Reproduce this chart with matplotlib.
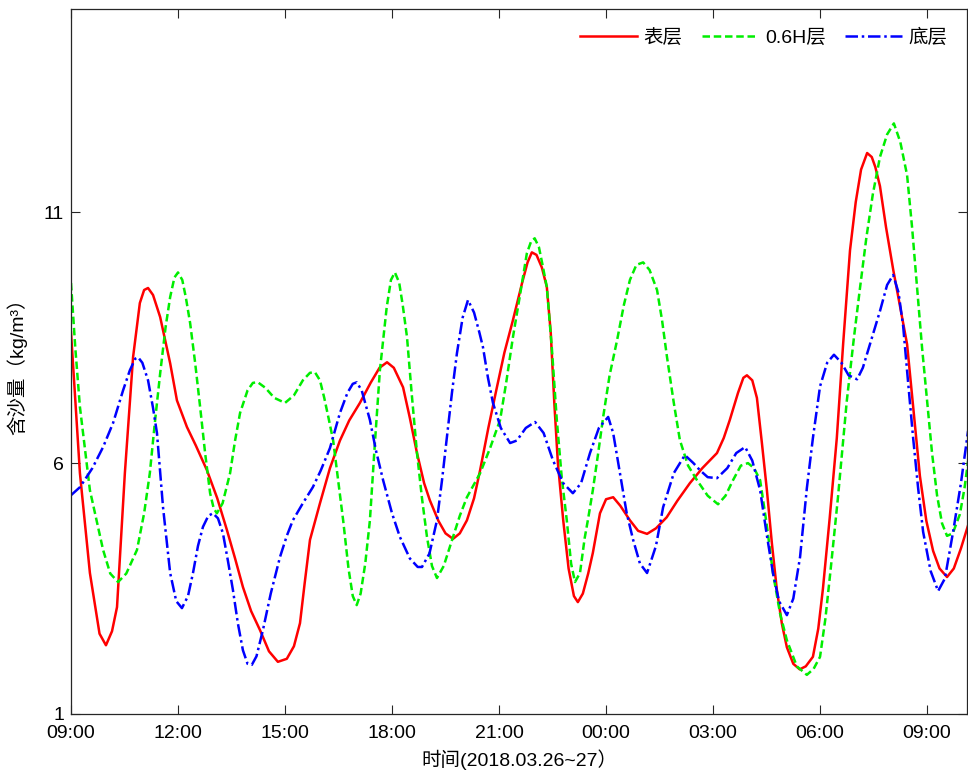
import matplotlib.pyplot as plt
import numpy as np

plt.rcParams['font.family'] = ['Liberation Sans', 'Noto Sans CJK SC', 'DejaVu Sans']

# hours after 2018-03-26 09:00
surf_t = [0, 0.25, 0.53, 0.8, 0.98, 1.15, 1.29, 1.51, 1.74, 1.93, 2.05, 2.16, 2.3, 2.5, 2.78,
          2.97, 3.25, 3.5, 3.81, 4.1, 4.37, 4.6, 4.82, 5.05, 5.3, 5.55, 5.8, 6.05, 6.25, 6.42,
          6.55, 6.7, 6.98, 7.26, 7.54, 7.8, 8.1, 8.4, 8.65, 8.86, 9.05, 9.31, 9.5, 9.7, 9.9,
          10.06, 10.3, 10.5, 10.71, 10.9, 11.1, 11.3, 11.47, 11.7, 11.94, 12.15, 12.39, 12.65,
          12.8, 12.92, 13.05, 13.2, 13.34, 13.45, 13.55, 13.65, 13.8, 13.95, 14.1, 14.21, 14.35,
          14.5, 14.63, 14.83, 15.0, 15.2, 15.4, 15.67, 15.9, 16.15, 16.4, 16.7, 17.0, 17.35,
          17.7, 18.11, 18.3, 18.47, 18.7, 18.85, 18.95, 19.1, 19.23, 19.37, 19.51, 19.65, 19.79,
          19.93, 20.07, 20.25, 20.43, 20.6, 20.8, 20.95, 21.08, 21.27, 21.47, 21.65, 21.84,
          22.0, 22.15, 22.32, 22.45, 22.55, 22.68, 22.85, 23.05, 23.25, 23.44, 23.6, 23.8,
          23.98, 24.17, 24.35, 24.56, 24.75, 24.95, 25.15]
surf_v = [8.61, 5.8, 3.81, 2.6, 2.37, 2.65, 3.13, 5.8, 8.11, 9.19, 9.45, 9.49, 9.35, 8.91, 7.99,
          7.25, 6.72, 6.35, 5.86, 5.3, 4.67, 4.1, 3.53, 3.05, 2.67, 2.25, 2.04, 2.1, 2.35, 2.81,
          3.6, 4.47, 5.2, 5.9, 6.45, 6.85, 7.2, 7.6, 7.9, 8.01, 7.9, 7.51, 6.9, 6.2, 5.6,
          5.26, 4.85, 4.6, 4.49, 4.6, 4.86, 5.3, 5.86, 6.7, 7.51, 8.2, 8.85, 9.6,
          10.0, 10.2, 10.15, 9.9, 9.51, 8.6, 7.2, 6.0, 4.86, 3.9, 3.35, 3.23, 3.4,
          3.8, 4.21, 5.0, 5.28, 5.32, 5.15, 4.86, 4.65, 4.59, 4.7, 4.92, 5.25, 5.6,
          5.9, 6.2, 6.5, 6.86, 7.4, 7.7, 7.75, 7.65, 7.3, 6.4, 5.46, 4.4, 3.47,
          2.8, 2.33, 2.0, 1.89, 1.95, 2.14, 2.7, 3.49, 4.9, 6.5, 8.4, 10.24,
          11.2, 11.85, 12.18, 12.1, 11.9, 11.52, 10.7, 9.86, 9.1, 8.37, 7.2, 5.74,
          4.85, 4.25, 3.9, 3.73, 3.9, 4.3, 4.76]

mid_t = [0, 0.12, 0.25, 0.53, 0.9, 1.1, 1.32, 1.55, 1.85, 2.05, 2.21, 2.35, 2.5, 2.65, 2.78,
         2.9, 3.0, 3.12, 3.22, 3.34, 3.48, 3.62, 3.76, 3.9, 4.0, 4.09, 4.25, 4.46, 4.6, 4.74,
         4.95, 5.1, 5.24, 5.45, 5.7, 6.0, 6.25, 6.5, 6.7, 6.84, 6.98, 7.1, 7.22, 7.35, 7.5,
         7.63, 7.78, 7.9, 8.01, 8.12, 8.25, 8.38, 8.52, 8.66, 8.85, 8.97, 9.08, 9.2, 9.3,
         9.42, 9.55, 9.7, 9.84, 9.98, 10.12, 10.26, 10.45, 10.71, 10.9, 11.1, 11.47, 11.75,
         12.03, 12.2, 12.39, 12.6, 12.78, 12.9, 13.0, 13.12, 13.22, 13.34, 13.48, 13.62,
         13.76, 13.9, 14.02, 14.13, 14.27, 14.4, 14.5, 14.63, 14.78, 14.92, 15.1, 15.31,
         15.5, 15.67, 15.85, 16.04, 16.22, 16.43, 16.57, 16.71, 16.9, 17.07, 17.3, 17.55,
         17.85, 18.14, 18.35, 18.56, 18.78, 18.98, 19.15, 19.32, 19.5, 19.68, 19.88, 20.07,
         20.35, 20.63, 20.82, 21.0, 21.15, 21.3, 21.5, 21.75, 21.95, 22.12, 22.3, 22.48,
         22.68, 22.88, 23.07, 23.25, 23.44, 23.58, 23.72, 23.86, 24.0, 24.14, 24.28, 24.42,
         24.56, 24.72, 24.92, 25.05, 25.15]
mid_v = [9.59, 8.3, 7.12, 5.46, 4.27, 3.8, 3.63, 3.8, 4.27, 5.0, 5.8, 6.8, 7.79, 8.7, 9.31,
         9.7, 9.8, 9.65, 9.3, 8.79, 8.0, 7.12, 6.2, 5.4, 5.1, 5.0, 5.2, 5.8, 6.45, 7.0,
         7.45, 7.6, 7.61, 7.5, 7.3, 7.2, 7.35, 7.65, 7.8, 7.81, 7.65, 7.3, 6.9, 6.45, 5.6,
         4.86, 3.9, 3.35, 3.17, 3.4, 4.0, 4.86, 6.4, 7.85, 9.1, 9.65, 9.8, 9.6, 9.15,
         8.51, 7.4, 6.2, 5.3, 4.53, 3.95, 3.71, 3.95, 4.53, 4.95, 5.32, 5.8, 6.3,
         6.86, 7.6, 8.51, 9.4, 10.18, 10.42, 10.48, 10.3, 9.95, 9.51, 8.3, 6.86,
         5.7, 4.86, 4.0, 3.63, 3.81, 4.5, 4.9, 5.46, 6.2, 6.92, 7.75, 8.45,
         9.15, 9.65, 9.95, 10.0, 9.85, 9.45, 8.85, 8.11, 7.2, 6.46, 5.95, 5.66,
         5.35, 5.18, 5.35, 5.66, 5.95, 6.0, 5.9, 5.66, 4.8, 3.81, 3.0, 2.47,
         1.95, 1.78, 1.9, 2.14, 2.9, 3.9, 5.3, 7.24, 8.5, 9.49, 10.5, 11.36,
         12.1, 12.55, 12.77, 12.4, 11.74, 10.7, 9.49, 8.3, 7.24, 6.2, 5.36, 4.8,
         4.55, 4.6, 4.98, 5.5, 6.04]

bot_t = [0, 0.25, 0.6, 0.9, 1.18, 1.46, 1.65, 1.8, 1.88, 2.0, 2.16, 2.3, 2.41, 2.58, 2.78,
         2.95, 3.11, 3.28, 3.42, 3.56, 3.7, 3.85, 3.98, 4.12, 4.26, 4.4, 4.54, 4.68, 4.82,
         4.95, 5.07, 5.2, 5.38, 5.6, 5.86, 6.05, 6.22, 6.5, 6.78, 7.0, 7.26, 7.54, 7.75,
         7.9, 8.01, 8.15, 8.38, 8.55, 8.75, 9.0, 9.22, 9.5, 9.72, 9.84, 10.05, 10.26, 10.4,
         10.54, 10.68, 10.82, 10.98, 11.13, 11.3, 11.45, 11.55, 11.69, 11.83, 12.05, 12.31,
         12.5, 12.75, 13.01, 13.25, 13.51, 13.8, 14.07, 14.3, 14.55, 14.8, 15.06, 15.2,
         15.39, 15.58, 15.76, 15.95, 16.15, 16.4, 16.6, 16.9, 17.21, 17.45, 17.63, 17.85,
         18.11, 18.4, 18.65, 18.9, 19.1, 19.32, 19.5, 19.68, 19.85, 20.07, 20.25, 20.44,
         20.63, 20.8, 21.0, 21.2, 21.39, 21.6, 21.8, 22.04, 22.2, 22.4, 22.68, 22.88, 23.05,
         23.2, 23.33, 23.47, 23.61, 23.75, 23.89, 24.1, 24.31, 24.5, 24.73, 24.95, 25.15]
bot_v = [5.36, 5.52, 5.9, 6.32, 6.8, 7.45, 7.85, 8.08, 8.11, 8.0, 7.65, 7.1, 6.6, 5.12, 3.81,
         3.25, 3.11, 3.35, 3.81, 4.35, 4.73, 4.95, 5.0, 4.9, 4.6, 4.05, 3.47, 2.8, 2.27,
         2.0, 1.98, 2.15, 2.67, 3.4, 4.13, 4.55, 4.86, 5.2, 5.52, 5.85, 6.3, 7.0, 7.4,
         7.58, 7.61, 7.45, 6.86, 6.25, 5.66, 5.0, 4.53, 4.1, 3.93, 3.93, 4.2, 4.86, 5.65,
         6.52, 7.4, 8.19, 8.9, 9.25, 9.0, 8.6, 8.31, 7.7, 7.2, 6.7, 6.4,
         6.45, 6.7, 6.82, 6.6, 6.06, 5.6, 5.4, 5.6, 6.2, 6.7, 6.92, 6.6,
         5.8, 5.0, 4.47, 4.0, 3.81, 4.35, 5.12, 5.8, 6.16, 6.0, 5.86, 5.72,
         5.7, 5.9, 6.2, 6.32, 6.05, 5.46, 4.6, 3.81, 3.25, 2.97, 3.3, 4.13,
         5.5, 6.5, 7.53, 8.0, 8.16, 8.0, 7.75, 7.67, 7.9, 8.37, 9.03, 9.55, 9.75,
         9.4, 8.73, 7.6, 6.5, 5.5, 4.63, 3.85, 3.45, 3.7, 4.63, 5.6, 6.64]

tick_hours = [0, 3, 6, 9, 12, 15, 18, 21, 24]
tick_labels = ['09:00', '12:00', '15:00', '18:00', '21:00', '00:00', '03:00', '06:00', '09:00']

fig = plt.figure(figsize=(9.68, 7.76), dpi=100)
ax = fig.add_axes([71 / 968, 62 / 776, 896 / 968, 705 / 776])

ax.plot(surf_t, surf_v, color='#ff0000', lw=1.8, ls='-', label='表层')
ax.plot(mid_t, mid_v, color='#00ee00', lw=1.8, ls=(0, (3, 1.5)), label='0.6H层')
ax.plot(bot_t, bot_v, color='#0000ff', lw=1.8, ls=(0, (5, 1.5, 1, 1.5)), label='底层')

ax.set_xlim(0, 25.12)
ax.set_ylim(1, 15.05)
ax.set_xticks(tick_hours)
ax.set_xticklabels(tick_labels)
ax.set_yticks([1, 6, 11])
ax.tick_params(direction='in', top=True, right=True, length=6.5, width=0.8,
               labelsize=14, colors='#262626', labelcolor='black')
ax.tick_params(axis='x', pad=8)
ax.tick_params(axis='y', pad=5)
for s in ax.spines.values():
    s.set_color('#262626')
    s.set_linewidth(0.9)

ax.set_xlabel('时间(2018.03.26~27）', fontsize=14, labelpad=5)
ax.set_ylabel('含沙量（kg/m³）', fontsize=14, labelpad=12)

ax.legend(loc='upper right', ncol=3, frameon=False, fontsize=14, handlelength=2.9,
          handletextpad=0.35, columnspacing=1.0, borderaxespad=0.6)

fig.savefig('out.png', dpi=100)
